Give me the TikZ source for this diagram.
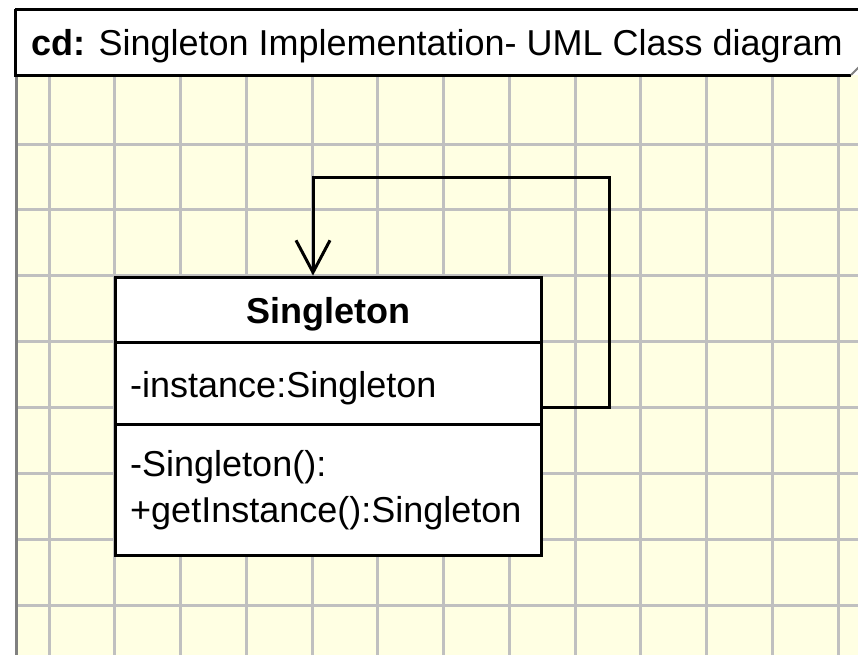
\documentclass[tikz,border=0pt]{standalone}
\usepackage{fontspec}
\setmainfont{Liberation Sans}
\usetikzlibrary{arrows.meta,calc}
\definecolor{cream}{RGB}{255,255,227}
\definecolor{gridgray}{RGB}{192,192,192}
\definecolor{edgegray}{RGB}{128,128,128}
\tikzset{
  gridline/.style={draw=gridgray, line width=3pt},
  umlline/.style={draw=black, line width=3pt},
  classbox/.style={draw=black, fill=white, line width=3pt, minimum width=426pt, minimum height=278pt, inner sep=0pt},
  txt/.style={anchor=base west, inner sep=0pt, font=\fontsize{36}{40}\selectfont},
  conn/.style={draw=black, line width=3pt, -{Straight Barb[length=32pt,width=34pt,line width=3pt]}},
}
\begin{document}
\begin{tikzpicture}[x=1pt,y=-1pt]
\useasboundingbox (0,0) rectangle (858,654);
\fill[white] (0,0) rectangle (858,654);
% canvas
\fill[cream] (15,75) rectangle (870,660);
\foreach \i in {0,...,12} {
  \draw[gridline] ({49+65.75*\i},75) -- ({49+65.75*\i},660);
}
\foreach \j in {0,...,7} {
  \draw[gridline] (15,{144+65.9*\j}) -- (870,{144+65.9*\j});
}
\draw[draw=edgegray, line width=3pt] (16.5,75) -- (16.5,660);
% header tab
\fill[white] (15,9) -- (870,9) -- (870,75) -- (850,75) -- (15,75) -- cycle;
\draw[umlline] (15,9) -- (870,9);
\draw[umlline] (15,9) -- (15,75) -- (851,75);
\draw[draw=edgegray, line width=2pt] (851,75) -- (860,66);
\node[txt] (hdr) at (31,55) {\textbf{cd:} Singleton Implementation- UML Class diagram};
% class
\node[classbox] (cls) at (328,416) {};
\draw[umlline] (115,342) -- (541,342);
\draw[umlline] (115,424) -- (541,424);
\node[txt, anchor=base] (cname) at (328,323) {\textbf{Singleton}};
\node[txt] (attr) at (130,397) {-instance:Singleton};
\node[txt] (op1) at (130,476) {-Singleton():};
\node[txt] (op2) at (130,522) {+getInstance():Singleton};
% self association
\coordinate (src) at (cls.east |- 0,407);
\coordinate (dst) at ($(cls.north)+(-15,0)$);
\coordinate (corner) at (609,177);
\draw[conn] (src) -| (corner) -| (dst);
\end{tikzpicture}
\end{document}
